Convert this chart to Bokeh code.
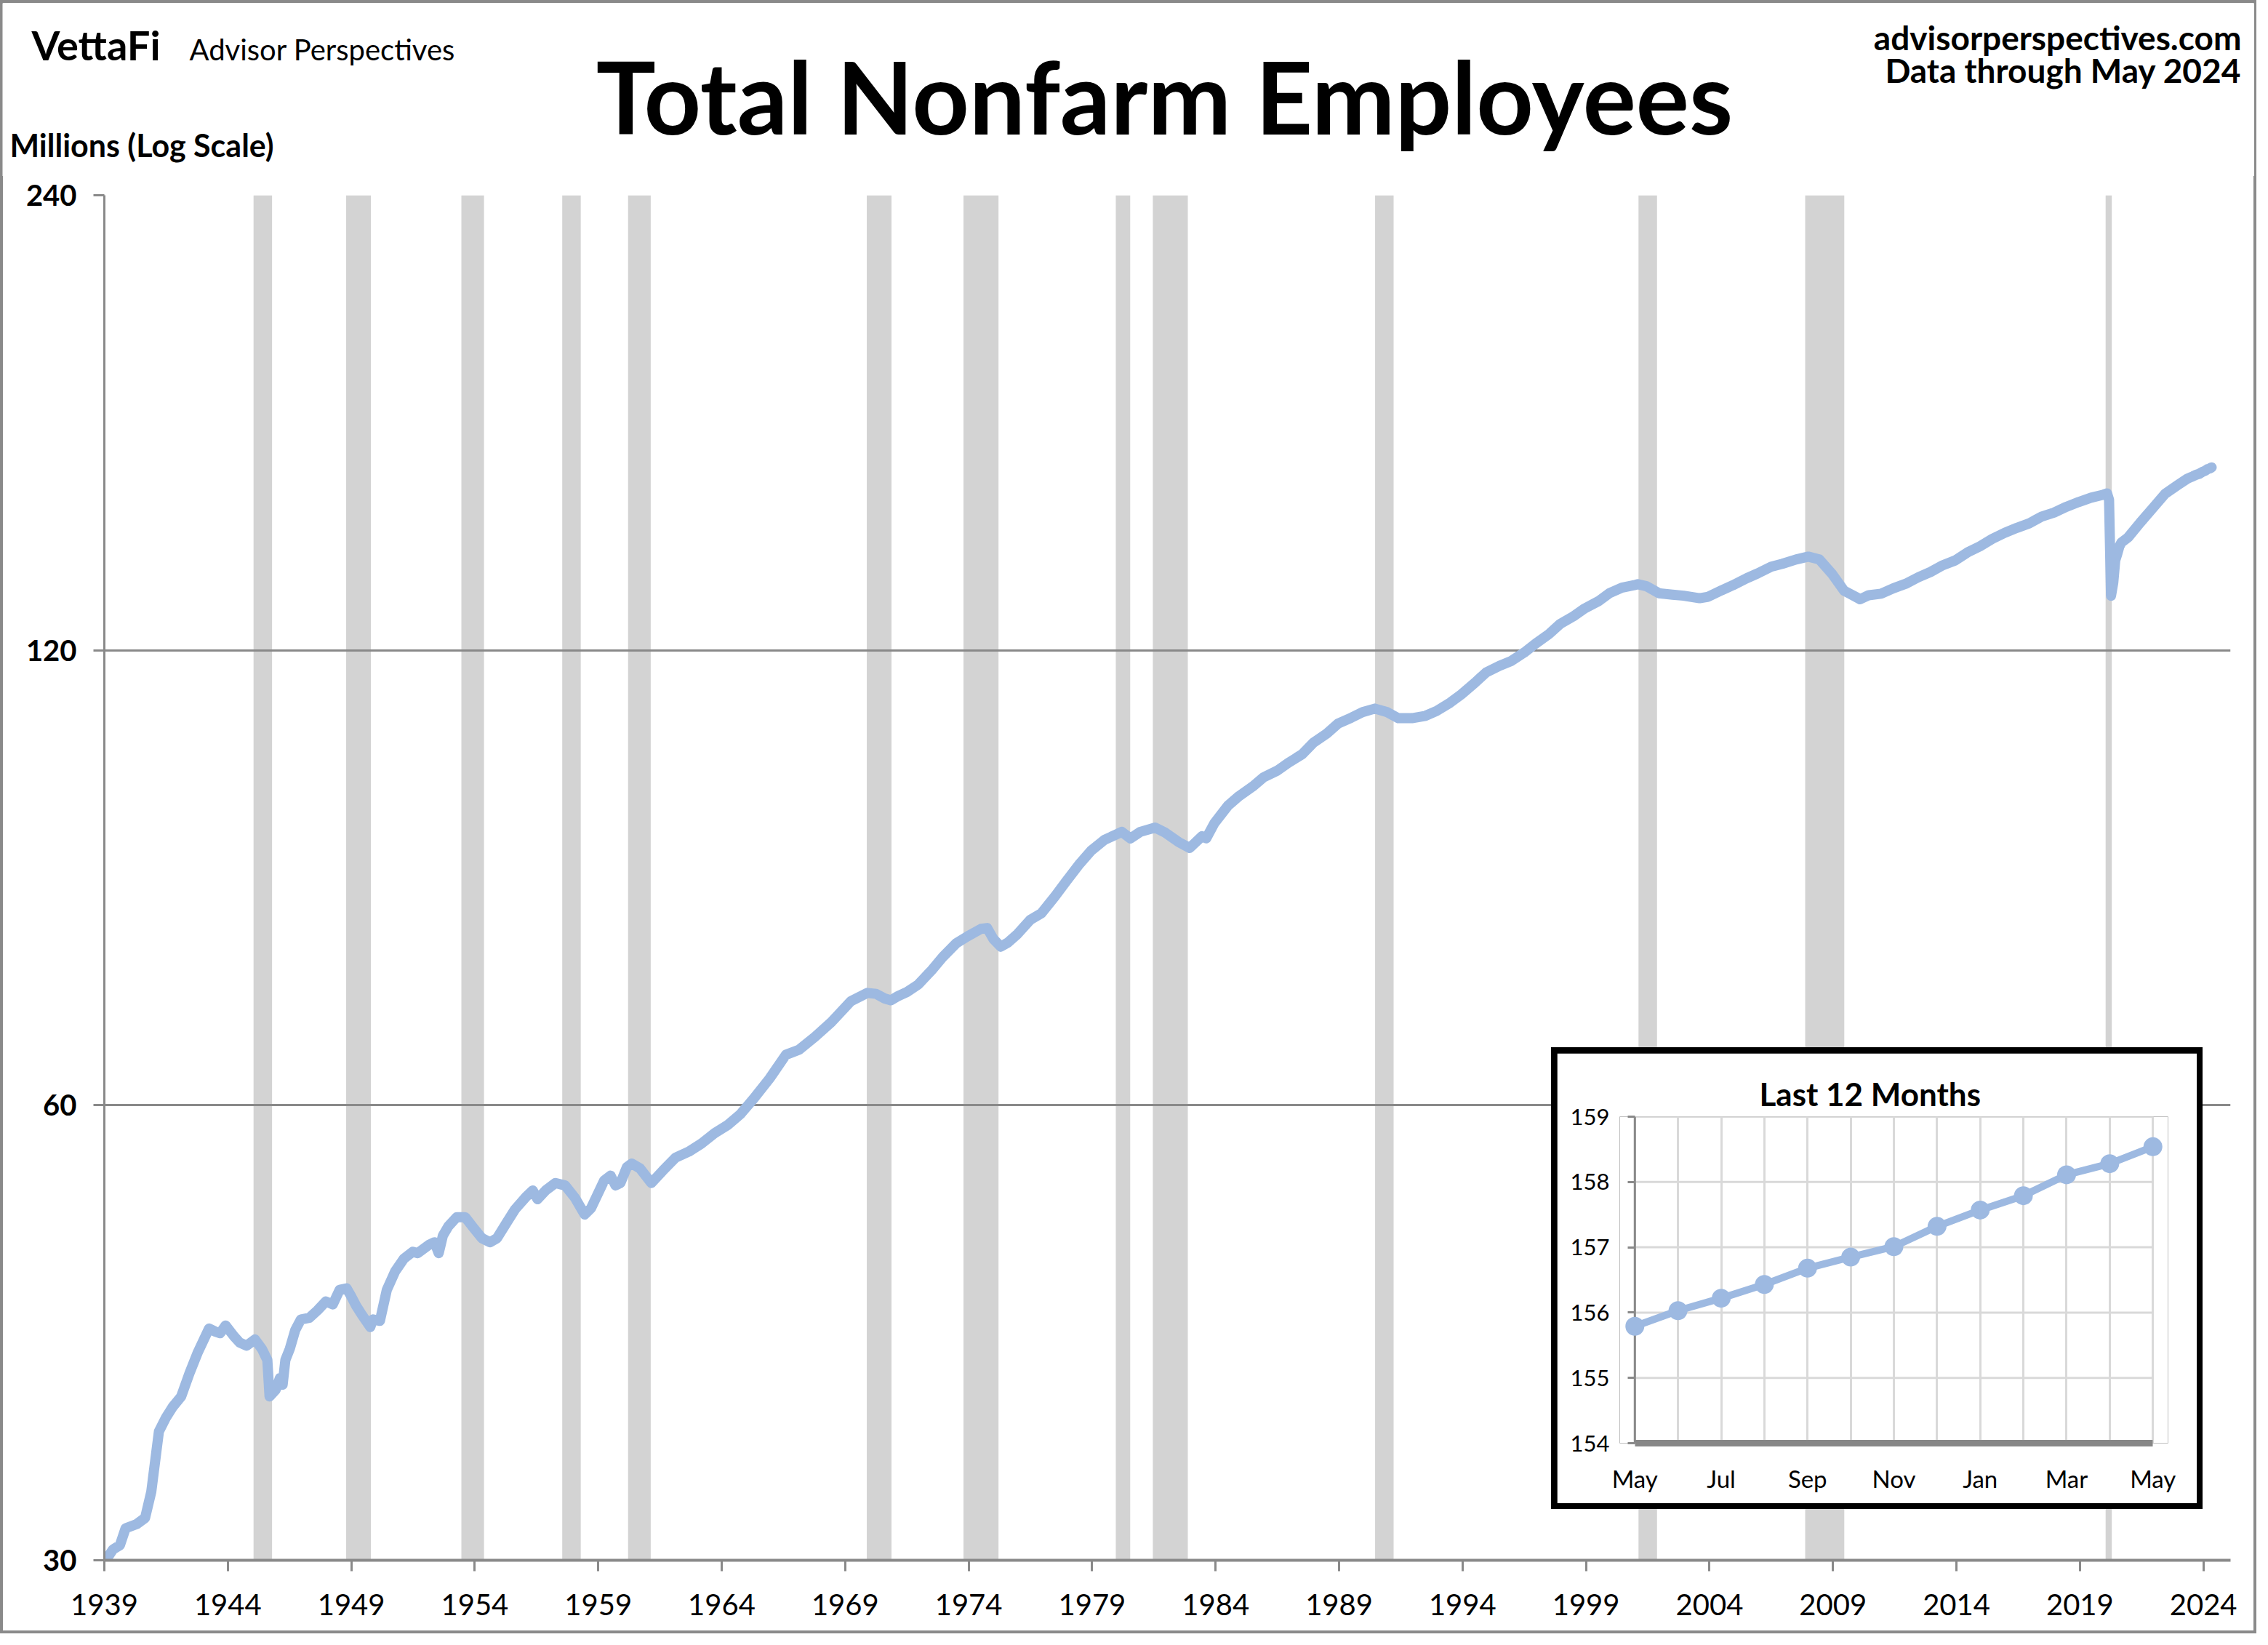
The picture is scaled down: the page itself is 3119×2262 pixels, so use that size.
from bokeh.plotting import figure
from bokeh.models import FixedTicker, Div, GridBox
from bokeh.core.properties import value
from bokeh.embed import file_html
from bokeh.resources import INLINE

FONT = "Lato"
GRAY = "#898989"
LINE_BLUE = "#9DB9E1"
BAND = "#D3D3D3"
INSET_GRID = "#D9D9D9"
BORDER = "#8a8a8a"

# ---------------- data ----------------
emp_year = [
    1939.00, 1939.35, 1939.63, 1939.86, 1940.31, 1940.65, 1940.90, 1941.21, 1941.50, 1941.77,
    1942.11, 1942.45, 1942.79, 1943.24, 1943.50, 1943.69, 1943.91, 1944.25, 1944.48, 1944.76,
    1945.10, 1945.38, 1945.60, 1945.69, 1945.94, 1946.11, 1946.22, 1946.33, 1946.51, 1946.73,
    1946.96, 1947.30, 1947.63, 1947.97, 1948.25, 1948.53, 1948.81, 1948.98, 1949.20, 1949.43,
    1949.77, 1949.88, 1950.16, 1950.44, 1950.78, 1951.13, 1951.49, 1951.69, 1952.14, 1952.37,
    1952.54, 1952.71, 1952.93, 1953.27, 1953.61, 1953.94, 1954.29, 1954.62, 1954.90, 1955.30,
    1955.63, 1956.08, 1956.35, 1956.54, 1956.87, 1957.27, 1957.66, 1958.06, 1958.45, 1958.71,
    1959.24, 1959.50, 1959.70, 1959.90, 1960.16, 1960.36, 1960.69, 1961.15, 1961.61, 1962.13,
    1962.66, 1963.18, 1963.71, 1964.23, 1964.76, 1965.29, 1965.94, 1966.60, 1967.13, 1967.78,
    1968.44, 1969.23, 1969.90, 1970.25, 1970.60, 1970.85, 1971.10, 1971.50, 1971.95, 1972.50,
    1972.95, 1973.50, 1973.95, 1974.50, 1974.75, 1975.00, 1975.30, 1975.60, 1975.95, 1976.50,
    1976.95, 1977.50, 1977.95, 1978.50, 1978.95, 1979.50, 1979.95, 1980.20, 1980.55, 1980.95,
    1981.55, 1981.95, 1982.50, 1982.95, 1983.45, 1983.62, 1983.95, 1984.50, 1984.95, 1985.50,
    1985.95, 1986.50, 1986.95, 1987.50, 1987.95, 1988.50, 1988.95, 1989.50, 1989.95, 1990.45,
    1990.95, 1991.40, 1991.95, 1992.50, 1992.95, 1993.50, 1993.95, 1994.50, 1994.95, 1995.50,
    1995.95, 1996.50, 1996.95, 1997.50, 1997.95, 1998.50, 1998.95, 1999.50, 1999.95, 2000.45,
    2000.95, 2001.10, 2001.45, 2001.95, 2002.50, 2002.95, 2003.60, 2003.95, 2004.50, 2004.95,
    2005.50, 2005.95, 2006.50, 2006.95, 2007.50, 2008.00, 2008.45, 2008.95, 2009.45, 2009.95,
    2010.10, 2010.45, 2010.95, 2011.45, 2011.95, 2012.45, 2012.95, 2013.45, 2013.95, 2014.45,
    2014.95, 2015.45, 2015.95, 2016.45, 2016.95, 2017.45, 2017.95, 2018.45, 2018.95, 2019.45,
    2019.95, 2020.10, 2020.18, 2020.26, 2020.35, 2020.43, 2020.52, 2020.60, 2020.68, 2020.95,
    2021.45, 2021.95, 2022.45, 2022.95,
]
emp_millions = [
    29.9, 30.5, 30.7, 31.5, 31.7, 32.0, 33.3, 36.5, 37.3, 37.9,
    38.5, 39.9, 41.2, 42.7, 42.5, 42.4, 42.9, 42.2, 41.8, 41.6,
    42.0, 41.4, 40.7, 38.5, 38.9, 39.6, 39.2, 40.7, 41.4, 42.6,
    43.3, 43.4, 43.9, 44.5, 44.3, 45.3, 45.4, 44.9, 44.2, 43.6,
    42.8, 43.3, 43.2, 45.3, 46.6, 47.5, 48.0, 47.9, 48.5, 48.7,
    47.9, 49.2, 49.9, 50.6, 50.6, 49.8, 49.0, 48.7, 49.0, 50.2,
    51.2, 52.2, 52.7, 52.0, 52.7, 53.3, 53.1, 52.1, 50.8, 51.3,
    53.5, 53.9, 53.1, 53.3, 54.6, 54.9, 54.5, 53.3, 54.3, 55.4,
    55.9, 56.6, 57.5, 58.2, 59.2, 60.6, 62.5, 64.8, 65.3, 66.6,
    68.1, 70.3, 71.2, 71.1, 70.6, 70.4, 70.8, 71.3, 72.1, 73.7,
    75.2, 76.8, 77.6, 78.5, 78.6, 77.3, 76.4, 76.9, 77.8, 79.6,
    80.4, 82.5, 84.4, 86.7, 88.4, 89.9, 90.6, 91.0, 90.1, 91.0,
    91.6, 90.9, 89.6, 88.8, 90.4, 90.1, 92.2, 94.7, 96.1, 97.5,
    98.9, 99.9, 101.1, 102.4, 104.2, 105.7, 107.3, 108.3, 109.2, 109.8,
    109.2, 108.2, 108.2, 108.6, 109.4, 110.8, 112.2, 114.2, 116.0, 117.2,
    118.0, 119.6, 121.2, 123.0, 124.9, 126.4, 127.9, 129.3, 130.9, 132.0,
    132.5, 132.7, 132.3, 130.9, 130.6, 130.4, 129.9, 130.2, 131.5, 132.5,
    133.9, 134.9, 136.3, 136.9, 137.8, 138.4, 137.8, 134.9, 131.4, 130.1,
    129.7, 130.5, 130.8, 131.9, 132.8, 134.1, 135.2, 136.6, 137.6, 139.3,
    140.6, 142.2, 143.5, 144.6, 145.6, 147.1, 148.0, 149.3, 150.4, 151.4,
    152.1, 152.4, 150.9, 130.4, 133.0, 137.6, 139.1, 140.6, 141.4, 142.5,
    145.8, 149.0, 152.3, 154.3,
]

recession_peaks = ["1945-02", "1948-11", "1953-07", "1957-08", "1960-04", "1969-12", "1973-11",
                   "1980-01", "1981-07", "1990-07", "2001-03", "2007-12", "2020-02"]
recession_troughs = ["1945-10", "1949-10", "1954-05", "1958-04", "1961-02", "1970-11", "1975-03",
                     "1980-07", "1982-11", "1991-03", "2001-11", "2009-06", "2020-04"]

y_ticks = [30, 60, 120, 240]
x_ticks = [1939, 1944, 1949, 1954, 1959, 1964, 1969, 1974, 1979, 1984, 1989, 1994, 1999,
           2004, 2009, 2014, 2019, 2024]

inset_months = ["May", "Jun", "Jul", "Aug", "Sep", "Oct", "Nov", "Dec", "Jan", "Feb", "Mar", "Apr", "May"]
inset_values = [155.79, 156.03, 156.22, 156.43, 156.68, 156.85, 157.01, 157.32, 157.57, 157.79,
                158.11, 158.28, 158.54]
inset_first_month = 2023 + 4 / 12   # May 2023
inset_y_ticks = [154, 155, 156, 157, 158, 159]
inset_label_idx = [0, 2, 4, 6, 8, 10, 12]

title_text = "Total Nonfarm Employees"
brand_text = "VettaFi"
brand_sub_text = "Advisor Perspectives"
site_text = "advisorperspectives.com"
data_note_text = "Data through May 2024"
y_title_text = "Millions (Log Scale)"
inset_title_text = "Last 12 Months"


def ym(s):
    y, m = s.split("-")
    return int(y) + (int(m) - 1) / 12


rec_left = [ym(s) - 0.5 / 12 for s in recession_peaks]
rec_right = [ym(s) + 0.5 / 12 for s in recession_troughs]

line_x = emp_year + [inset_first_month + i / 12 for i in range(len(inset_values))]
line_y = emp_millions + inset_values

# ---------------- main chart ----------------
MAIN_W, MAIN_H = 3095, 2002
p = figure(width=MAIN_W, height=MAIN_H, x_range=(1939, 2025.1), y_range=(30, 240),
           y_axis_type="log", output_backend="svg", toolbar_location=None, title=None,
           min_border_left=139, min_border_right=32, min_border_top=28, min_border_bottom=97,
           background_fill_color="white", border_fill_color="white", outline_line_color=None)

# recession bands sit below the grid lines
p.quad(left=rec_left, right=rec_right, bottom=y_ticks[0], top=y_ticks[-1],
       fill_color=BAND, line_color=None, level="image")
p.line(line_x, line_y, line_width=14, line_color=LINE_BLUE, line_join="round", line_cap="round")

p.xgrid.grid_line_color = None
p.ygrid.ticker = FixedTicker(ticks=y_ticks)
p.ygrid.grid_line_color = GRAY
p.ygrid.grid_line_width = 3

ya = p.yaxis[0]
ya.ticker = FixedTicker(ticks=y_ticks)
ya.major_label_overrides = {t: str(t) for t in y_ticks}
ya.major_label_text_font = FONT
ya.major_label_text_font_size = "40px"
ya.major_label_text_font_style = "bold"
ya.major_label_text_color = "black"
ya.major_label_standoff = 23
ya.axis_line_color = GRAY
ya.axis_line_width = 3
ya.major_tick_line_color = GRAY
ya.major_tick_line_width = 3
ya.major_tick_out = 15
ya.major_tick_in = 0
ya.minor_tick_line_color = None

xa = p.xaxis[0]
xa.ticker = FixedTicker(ticks=x_ticks)
xa.major_label_overrides = {t: str(t) for t in x_ticks}
xa.major_label_text_font = FONT
xa.major_label_text_font_size = "40px"
xa.major_label_text_color = "black"
xa.major_label_standoff = 31
xa.axis_line_color = GRAY
xa.axis_line_width = 4
xa.major_tick_line_color = GRAY
xa.major_tick_line_width = 3
xa.major_tick_out = 15
xa.major_tick_in = 0
xa.minor_tick_line_color = None

# ---------------- header (texts above the chart) ----------------
HEAD_W, HEAD_H = 3097, 238
head = figure(width=HEAD_W, height=HEAD_H, x_range=(0, HEAD_W), y_range=(0, HEAD_H),
              output_backend="svg", toolbar_location=None, title=None,
              x_axis_location=None, y_axis_location=None,
              min_border_left=0, min_border_right=0, min_border_top=0, min_border_bottom=0,
              background_fill_color="white", border_fill_color="white", outline_line_color=None)
head.xgrid.grid_line_color = None
head.ygrid.grid_line_color = None


def head_text(txt, x, y, size, bold=False, align="left"):
    head.text(x=[x], y=[y], text=[txt], text_font=value(FONT), text_font_size=value(f"{size}px"),
              text_font_style="bold" if bold else "normal", text_align=align,
              text_baseline="alphabetic", text_color="black")


# x from the header's left edge, y measured upward from its bottom edge
head_text(brand_text, 40, 181, 56, bold=True)
head_text(brand_sub_text, 257, 175, 40)
head_text(title_text, 1598, 111, 137, bold=True, align="center")
head_text(y_title_text, 10, 43, 43, bold=True)
head_text(site_text, 3079, 191, 46, bold=True, align="right")
head_text(data_note_text, 3079, 146, 46, bold=True, align="right")

# ---------------- inset ----------------
ix = list(range(len(inset_values)))
p2 = figure(width=880, height=619, x_range=(-0.35, ix[-1] + 0.35),
            y_range=(inset_y_ticks[0], inset_y_ticks[-1]),
            output_backend="svg", toolbar_location=None,
            min_border_left=86, min_border_right=40, min_border_top=87, min_border_bottom=83,
            background_fill_color="white", border_fill_color="white", outline_line_color=None)

p2.title.text = inset_title_text
p2.title.text_font = FONT
p2.title.text_font_size = "44px"
p2.title.text_font_style = "bold"
p2.title.text_color = "black"
p2.title.align = "left"
p2.title.offset = 192
p2.title.standoff = 12

p2.xgrid.ticker = FixedTicker(ticks=ix)
p2.xgrid.grid_line_color = INSET_GRID
p2.xgrid.grid_line_width = 3
p2.ygrid.grid_line_color = None
p2.segment(x0=ix[0], x1=ix[-1], y0=inset_y_ticks[1:], y1=inset_y_ticks[1:],
           line_color=INSET_GRID, line_width=3)
# vertical axis line at the first month
p2.segment(x0=[ix[0]], x1=[ix[0]], y0=[inset_y_ticks[0]], y1=[inset_y_ticks[-1]],
           line_color=GRAY, line_width=3)

p2.line(ix, inset_values, line_width=10, line_color=LINE_BLUE)
p2.scatter(ix, inset_values, size=26, fill_color=LINE_BLUE, line_color=None)

iy = p2.yaxis[0]
iy.ticker = FixedTicker(ticks=inset_y_ticks)
iy.major_label_text_font = FONT
iy.major_label_text_font_size = "31px"
iy.major_label_text_color = "black"
iy.major_label_standoff = 14
iy.axis_line_color = None
iy.major_tick_line_color = GRAY
iy.major_tick_line_width = 3
iy.major_tick_out = -11
iy.major_tick_in = 21
iy.minor_tick_line_color = None

ixa = p2.xaxis[0]
ixa.ticker = FixedTicker(ticks=inset_label_idx)
ixa.major_label_overrides = {i: inset_months[i] for i in inset_label_idx}
ixa.bounds = (ix[0], ix[-1])
ixa.major_label_text_font = FONT
ixa.major_label_text_font_size = "33px"
ixa.major_label_text_color = "black"
ixa.major_label_standoff = 28
ixa.axis_line_color = "#878787"
ixa.axis_line_width = 9
ixa.major_tick_out = 0
ixa.major_tick_in = 0
ixa.minor_tick_line_color = None

# ---------------- page layout (outer grey border strips, black inset frame) ----------------
def strip(w, h, color):
    return Div(text="", width=w, height=h, margin=0, styles={"background-color": color})


top_b = strip(3103, 4, BORDER)
bottom_b = strip(3103, 4, BORDER)
left_b = strip(4, 2246, BORDER)
right_b = strip(4, 2246, BORDER)
inset_frame = strip(896, 635, "#000000")

grid = GridBox(
    children=[(left_b, 0, 0, 9, 2), (right_b, 0, 7, 9, 2), (top_b, 0, 0, 1, 9), (bottom_b, 8, 0, 1, 9),
              (head, 1, 1, 2, 7), (p, 2, 2, 6, 5),
              (inset_frame, 4, 3, 3, 3), (p2, 5, 4, 1, 1)],
    cols=["3px", "1px", "2129px", "8px", "880px", "8px", "70px", "1px", "3px"],
    rows=["4px", "236px", "2px", "1198px", "8px", "619px", "8px", "167px", "4px"],
)

open("out.html", "w").write(file_html(grid, INLINE))
